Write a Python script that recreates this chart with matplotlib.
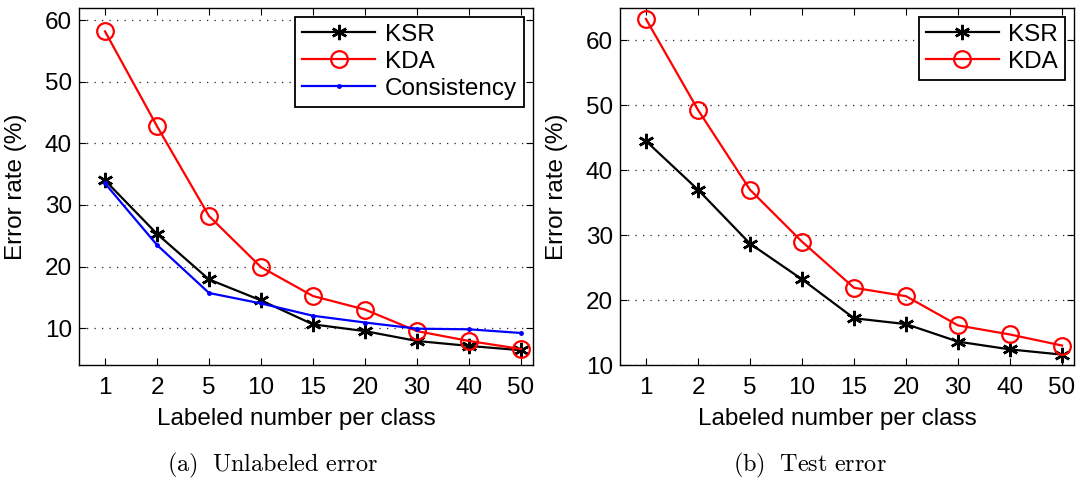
import matplotlib
matplotlib.use("Agg")
import matplotlib.pyplot as plt
import numpy as np

categories = ["1", "2", "5", "10", "15", "20", "30", "40", "50"]

# (a) Unlabeled error
ksr_unlab = [34.0, 25.3, 17.9, 14.5, 10.6, 9.5, 7.9, 7.1, 6.4]
kda_unlab = [58.2, 42.8, 28.2, 19.9, 15.2, 13.0, 9.5, 7.9, 6.6]
cons_unlab = [33.5, 23.5, 15.7, 14.0, 12.0, 10.9, 9.9, 9.8, 9.2]

# (b) Test error
ksr_test = [44.5, 37.0, 28.7, 23.2, 17.2, 16.3, 13.6, 12.4, 11.6]
kda_test = [63.3, 49.3, 37.0, 29.0, 21.9, 20.6, 16.1, 14.7, 13.0]

plt.rcParams['font.family'] = ['Liberation Sans', 'DejaVu Sans']
plt.rcParams['mathtext.fontset'] = 'cm'

W, H = 1077, 478
fig = plt.figure(figsize=(W / 100, H / 100), dpi=100)

def axrect(x0, y0, x1, y1):
    return [x0 / W, 1 - y1 / H, (x1 - x0) / W, (y1 - y0) / H]

ax1 = fig.add_axes(axrect(79, 8, 533, 365))
ax2 = fig.add_axes(axrect(620, 8, 1074, 365))

x = np.arange(1, len(categories) + 1)
FS = 17.5
ASTER = (6, 2, 0)

def style(ax, ylim, yticks):
    ax.set_xlim(0.5, 9.23)
    ax.set_ylim(*ylim)
    ax.set_xticks(x)
    ax.set_xticklabels(categories)
    ax.set_yticks(yticks)
    ax.tick_params(direction='in', top=True, right=True, labelsize=FS,
                   length=5, width=0.8)
    ax.tick_params(axis='x', pad=9)
    ax.tick_params(axis='y', pad=5)
    ax.yaxis.grid(True, linestyle=(0, (1, 5)), color='#222222', linewidth=0.9)
    for s in ax.spines.values():
        s.set_linewidth(1.0)
    ax.set_xlabel("Labeled number per class", fontsize=FS)
    ax.xaxis.set_label_coords(0.478, -0.12)
    ax.set_ylabel("Error rate (%)", fontsize=FS)
    ax.yaxis.set_label_coords(-0.115, 0.5)

ax1.plot(x, ksr_unlab, color='black', marker=ASTER, markersize=11, linewidth=1.6,
         markeredgewidth=1.8, label='KSR')
ax1.plot(x, kda_unlab, color='red', marker='o', markersize=12, linewidth=1.6,
         markerfacecolor='none', markeredgewidth=1.6, label='KDA')
ax1.plot(x, cons_unlab, color='blue', marker='.', markersize=5, linewidth=1.6,
         label='Consistency')
style(ax1, (4, 62), [10, 20, 30, 40, 50, 60])

ax2.plot(x, ksr_test, color='black', marker=ASTER, markersize=11, linewidth=1.6,
         markeredgewidth=1.8, label='KSR')
ax2.plot(x, kda_test, color='red', marker='o', markersize=12, linewidth=1.6,
         markerfacecolor='none', markeredgewidth=1.6, label='KDA')
style(ax2, (10, 65), [10, 20, 30, 40, 50, 60])

for ax in (ax1, ax2):
    leg = ax.legend(loc='upper right', fontsize=FS, fancybox=False,
                    framealpha=1, edgecolor='black', borderpad=0.3,
                    handlelength=3.0, handletextpad=0.4, labelspacing=0.2,
                    borderaxespad=0.35, bbox_to_anchor=(1.0, 1.0))
    leg.get_frame().set_linewidth(1.3)

fig.text(272 / W, 1 - 465 / H, r"$\mathrm{(a)\ \ Unlabeled\ error}$", ha='center',
         va='center', fontsize=17.5)
fig.text(810 / W, 1 - 465 / H, r"$\mathrm{(b)\ \ Test\ error}$", ha='center',
         va='center', fontsize=17.5)

fig.savefig("out.png", dpi=100)
